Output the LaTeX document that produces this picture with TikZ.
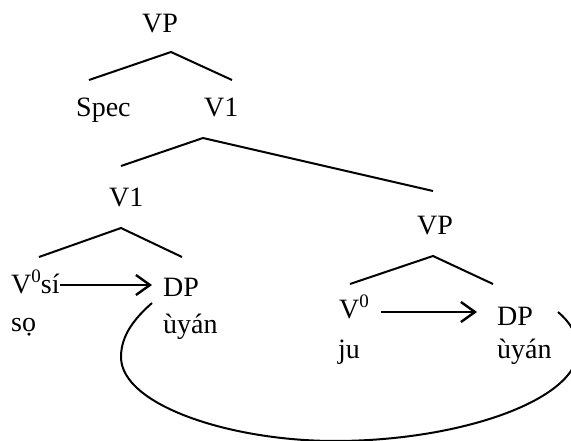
\documentclass[tikz,border=0pt]{standalone}
\usepackage{fontspec}
\setmainfont{Liberation Serif}
\usetikzlibrary{arrows.meta}
\begin{document}
\begin{tikzpicture}[x=1pt,y=-1pt,
  lbl/.style={anchor=base west,inner sep=0pt,font=\fontsize{28}{34}\selectfont},
  branch/.style={line width=2pt},
  arr/.style={line width=2.4pt,-{Straight Barb[length=14pt,width=20pt,line width=2.4pt]}},
  loop/.style={line width=2pt}]
\useasboundingbox (0,0) rectangle (571,441);
% labels
\node[lbl] (vptop) at (142,33) {VP};
\node[lbl] (spec) at (76,117) {Spec};
\node[lbl] (vone) at (204,117) {V1};
\node[lbl] (vtwo) at (109,207) {V1};
\node[lbl] (vpr) at (417,235) {VP};
\node[lbl] (vsi) at (11,294) {V\raisebox{0.42em}{\fontsize{19}{20}\selectfont 0}sí};
\node[lbl] (so) at (11,331) {sọ};
\node[lbl] (dpl) at (163,297) {DP};
\node[lbl] (uyl) at (163,333) {ùyán};
\node[lbl] (v0r) at (339,319) {V\raisebox{0.42em}{\fontsize{19}{20}\selectfont 0}};
\node[lbl] (ju) at (338,358) {ju};
\node[lbl] (dpr) at (497,325) {DP};
\node[lbl] (uyr) at (497,358) {ùyán};
% branch points
\coordinate (t0) at (171,52);
\coordinate (t1) at (89,80);
\coordinate (t2) at (232,80);
\coordinate (u0) at (203,138);
\coordinate (u1) at (121,166);
\coordinate (u2) at (433,191);
\coordinate (w0) at (121,228);
\coordinate (w1) at (39,257);
\coordinate (w2) at (182,257);
\coordinate (r0) at (433,256);
\coordinate (r1) at (350,284);
\coordinate (r2) at (493,284);
\draw[branch] (t1) -- (t0) -- (t2);
\draw[branch] (u1) -- (u0) -- (u2);
\draw[branch] (w1) -- (w0) -- (w2);
\draw[branch] (r1) -- (r0) -- (r2);
% arrows
\coordinate (a1s) at (60,285);
\coordinate (a2s) at (381,312);
\draw[arr,shorten >=11pt] (a1s) -- (a1s -| dpl.west);
\draw[arr,shorten >=20pt] (a2s) -- (a2s -| dpr.west);
% movement loop
\coordinate (l1) at (152,303);
\coordinate (l2) at (558,312);
\draw[loop] (l1) .. controls (135,318) and (121,335) .. (121,357)
  .. controls (121,405) and (230,441) .. (335,441)
  .. controls (460,441) and (578,400) .. (578,350)
  .. controls (578,335) and (570,322) .. (l2);
\end{tikzpicture}
\end{document}
